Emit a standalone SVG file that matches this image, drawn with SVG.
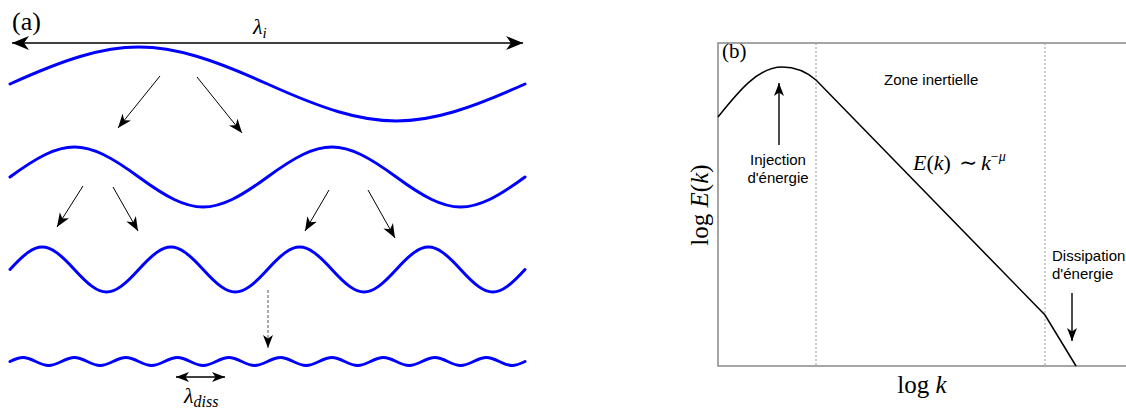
<svg xmlns="http://www.w3.org/2000/svg" width="1126" height="409" viewBox="0 0 1126 409">
<style>
.wave{fill:none;stroke:#0000ff;stroke-width:3;stroke-linecap:round}
.arr{fill:none;stroke:#000;stroke-width:1}
.arrb{fill:none;stroke:#000;stroke-width:1.4}
.math{font-family:"Liberation Serif","DejaVu Serif",serif;fill:#000}
.lbl{font-family:"Liberation Sans",Arial,sans-serif;font-size:15px;fill:#000}
.frame{fill:none;stroke:#888;stroke-width:1.5}
.dash{fill:none;stroke:#999;stroke-width:1;stroke-dasharray:2,2}
.curve{fill:none;stroke:#000;stroke-width:1.5}
</style>
<defs>
<marker id="hb" markerUnits="userSpaceOnUse" markerWidth="17" markerHeight="15" refX="17" refY="7.5" orient="auto-start-reverse"><path d="M0,0.5 L17,7.5 L0,14.5 L5,7.5 Z" fill="#000"/></marker>
<marker id="hm" markerUnits="userSpaceOnUse" markerWidth="14" markerHeight="12" refX="14" refY="6" orient="auto-start-reverse"><path d="M0,0.5 L14,6 L0,11.5 L4,6 Z" fill="#000"/></marker>
<marker id="hs" markerUnits="userSpaceOnUse" markerWidth="13" markerHeight="11" refX="13" refY="5.5" orient="auto-start-reverse"><path d="M0,0.5 L13,5.5 L0,10.5 L3.5,5.5 Z" fill="#000"/></marker>
</defs>

<g id="panel-a">
<text id="label-a" class="math" x="12" y="30" font-size="26">(a)</text>
<g id="wave1"><path class="wave" d="M10,84 c109.3,-49.3 148.2,-49.3 257.5,0 s148.2,49.3 257.5,0"/></g>
<g id="wave2"><path class="wave" d="M10,177 c54.64,-40 74.11,-40 128.75,0 s74.11,40 128.75,0 s74.11,-40 128.75,0 s74.11,40 128.75,0"/></g>
<g id="wave3"><path class="wave" d="M10,269.5 c27.32,-30 37.06,-30 64.375,0 s37.06,30 64.375,0 s37.06,-30 64.375,0 s37.06,30 64.375,0 s37.06,-30 64.375,0 s37.06,30 64.375,0 s37.06,-30 64.375,0 s37.06,30 64.375,0"/></g>
<g id="wave4"><path class="wave" d="M10,361.5 c10.93,-5.33 14.82,-5.33 25.75,0 s14.82,5.33 25.75,0 s14.82,-5.33 25.75,0 s14.82,5.33 25.75,0 s14.82,-5.33 25.75,0 s14.82,5.33 25.75,0 s14.82,-5.33 25.75,0 s14.82,5.33 25.75,0 s14.82,-5.33 25.75,0 s14.82,5.33 25.75,0 s14.82,-5.33 25.75,0 s14.82,5.33 25.75,0 s14.82,-5.33 25.75,0 s14.82,5.33 25.75,0 s14.82,-5.33 25.75,0 s14.82,5.33 25.75,0 s14.82,-5.33 25.75,0 s14.82,5.33 25.75,0 s14.82,-5.33 25.75,0 s14.82,5.33 25.75,0"/></g>
<text id="lambda-i" class="math" x="253" y="34" font-size="22" font-style="italic">λ<tspan font-size="15" dy="4">i</tspan></text>
<text id="lambda-diss" class="math" x="184" y="403" font-size="22" font-style="italic">λ<tspan font-size="16" dy="4">diss</tspan></text>
</g>

<g id="panel-b">
<g id="frame">
<path class="frame" d="M1126,43 H718 V366 H1126"/>
</g>
<g id="zones">
<line class="dash" x1="816" y1="43" x2="816" y2="366"/>
<line class="dash" x1="1045" y1="43" x2="1045" y2="366"/>
</g>
<g id="spectrum">
<path class="curve" d="M718,117 C738,92 758,67 782,67 C797,67 808,73 816,80 L1045,315 L1076,366"/>
</g>
<text id="label-b" class="math" x="722" y="58" font-size="21">(b)</text>
<g id="zone-inertielle"><text class="lbl" x="884" y="85">Zone inertielle</text></g>
<g id="injection"><text class="lbl" x="778" y="165" text-anchor="middle">Injection</text><text class="lbl" x="778" y="183" text-anchor="middle">d'énergie</text></g>
<g id="dissipation"><text class="lbl" x="1052" y="261">Dissipation</text><text class="lbl" x="1052" y="279">d'énergie</text></g>
<g id="law"><text class="math" y="170" font-size="22"><tspan x="913" font-style="italic">E</tspan>(<tspan font-style="italic">k</tspan>)<tspan x="959">∼</tspan><tspan x="981" font-style="italic">k</tspan><tspan font-size="14" dy="-9">−<tspan font-style="italic">μ</tspan></tspan></text></g>
<text id="ylabel" class="math" font-size="25" text-anchor="middle" transform="translate(708,205) rotate(-90)">log <tspan font-style="italic">E</tspan>(<tspan font-style="italic">k</tspan>)</text>
<text id="xlabel" class="math" font-size="25" text-anchor="middle" x="922" y="393">log <tspan font-style="italic">k</tspan></text>
</g>

<g id="connectors">
<line class="arrb" x1="12" y1="43" x2="523" y2="43" marker-start="url(#hb)" marker-end="url(#hb)"/>
<line class="arr" x1="160" y1="76" x2="118" y2="128" marker-end="url(#hm)"/>
<line class="arr" x1="197" y1="77" x2="242" y2="133" marker-end="url(#hm)"/>
<line class="arr" x1="83" y1="186" x2="57" y2="227" marker-end="url(#hm)"/>
<line class="arr" x1="113" y1="187" x2="138" y2="231" marker-end="url(#hm)"/>
<line class="arr" x1="329" y1="190" x2="305" y2="231" marker-end="url(#hm)"/>
<line class="arr" x1="368" y1="190" x2="395" y2="238" marker-end="url(#hm)"/>
<line x1="268" y1="290" x2="268" y2="348" stroke="#555" stroke-width="1" stroke-dasharray="3,2" marker-end="url(#hs)"/>
<line class="arrb" x1="176" y1="377" x2="225" y2="377" marker-start="url(#hs)" marker-end="url(#hs)"/>
<line class="arrb" x1="779" y1="145" x2="779" y2="83" marker-end="url(#hs)"/>
<line class="arrb" x1="1072" y1="293" x2="1072" y2="341" marker-end="url(#hs)"/>
</g>
</svg>
